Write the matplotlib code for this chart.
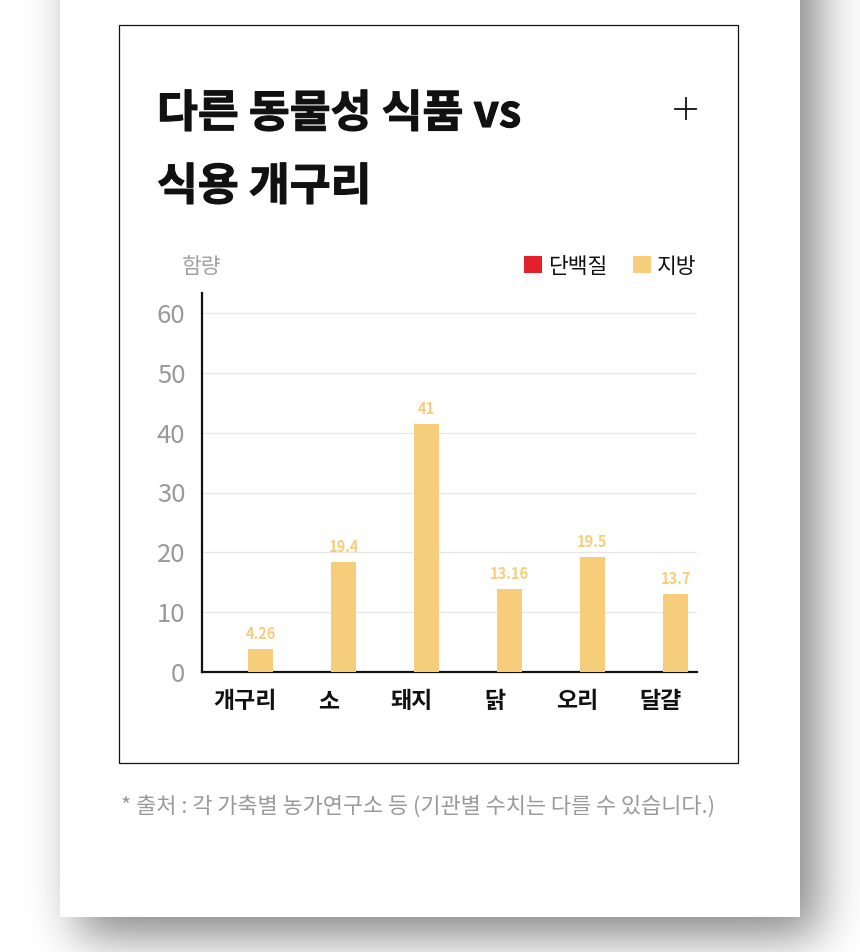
import math
import numpy as np
import matplotlib
matplotlib.use("Agg")
import matplotlib.pyplot as plt
import matplotlib.patheffects as pe
from matplotlib.patches import Rectangle
from matplotlib.lines import Line2D

plt.rcParams['font.family'] = ['Noto Sans CJK KR', 'DejaVu Sans']

# data
categories = ['개구리', '소', '돼지', '닭', '오리', '달걀']
series_names = ['단백질', '지방']
series_colors = ['#e4222b', '#f6cd7b']
fat_heights = [3.9, 18.45, 41.4, 13.8, 19.15, 13.1]      # bar tops as drawn
fat_labels = ['4.26', '19.4', '41', '13.16', '19.5', '13.7']  # value labels as printed
y_ticks = [0, 10, 20, 30, 40, 50, 60]

title_lines = ['다른 동물성 식품 vs', '식용 개구리']
unit_label = '함량'
footnote = '* 출처 : 각 가축별 농가연구소 등 (기관별 수치는 다를 수 있습니다.)'

W, H = 860, 952
fig = plt.figure(figsize=(W / 100, H / 100), dpi=100)

# background axes in pixel coordinates
bg = fig.add_axes([0, 0, 1, 1])
bg.set_xlim(0, W)
bg.set_ylim(H, 0)
bg.axis('off')


def profile(t, a, b, s):
    erf = np.vectorize(math.erf)
    return 0.5 * (erf((t - a) / (s * math.sqrt(2))) - erf((t - b) / (s * math.sqrt(2))))


# soft drop shadow of the card
xs = np.arange(W) + 0.5
ys = np.arange(H) + 0.5
px = profile(xs, 60 + 18, 800 + 18, 24)
py = profile(ys, -200, 916 + 20, 24)
shade = 1 - 0.48 * np.outer(py, px)
bg.imshow(shade, cmap='gray', vmin=0, vmax=1, extent=(0, W, H, 0),
          aspect='auto', interpolation='bilinear', zorder=0)

bg.add_patch(Rectangle((60, -5), 740, 921.5, fc='white', ec='none', zorder=1))
bg.add_patch(Rectangle((118.5, 24.5), 619, 738, fill=False, ec='#111111',
                       lw=0.9, zorder=2))

# title
thick = [pe.withStroke(linewidth=0.8, foreground='#111111')]
bg.text(157, 127, title_lines[0], fontsize=32, fontweight='black', color='#111111',
        va='baseline', ha='left', zorder=3, path_effects=thick)
bg.text(157, 200, title_lines[1], fontsize=32, fontweight='black', color='#111111',
        va='baseline', ha='left', zorder=3, path_effects=thick)

# plus icon
bg.add_line(Line2D([675, 696], [108.5, 108.5], color='#111111', lw=1.3, zorder=3))
bg.add_line(Line2D([685.5, 685.5], [98, 119], color='#111111', lw=1.3, zorder=3))

# unit + legend
bg.text(182, 273, unit_label, fontsize=15.5, color='#a0a0a0', va='baseline', zorder=3)
bg.add_patch(Rectangle((524, 256), 18, 17, fc=series_colors[0], ec='none', zorder=3))
bg.text(548, 273, series_names[0], fontsize=15.5, color='#111111', va='baseline', zorder=3)
bg.add_patch(Rectangle((633, 256), 18, 17, fc=series_colors[1], ec='none', zorder=3))
bg.text(657, 273, series_names[1], fontsize=15.5, color='#111111', va='baseline', zorder=3)

# footnote
bg.text(121, 813, footnote, fontsize=15.8, color='#9a9a9a', va='baseline', zorder=3)

# chart axes
ax_l, ax_r, ax_t, ax_b = 202, 697, 293, 672
ax = fig.add_axes([ax_l / W, 1 - ax_b / H, (ax_r - ax_l) / W, (ax_b - ax_t) / H])
ax.patch.set_alpha(0)

step = 83.0
x = np.arange(len(categories))
offset = 15 / step
bw = 25 / step
ax.bar(x + offset, fat_heights, width=bw, color=series_colors[1], zorder=3)
for xi, h, lab in zip(x, fat_heights, fat_labels):
    ax.annotate(lab, (xi + offset, h), xytext=(0, 10), textcoords='offset pixels',
                ha='center', va='baseline', fontsize=10.5, fontweight='bold',
                color=series_colors[1])

ax.set_xlim((ax_l - 245.5) / step, (ax_r - 245.5) / step)
ax.set_ylim(0, 60 * (ax_b - ax_t) / (ax_b - 313))
ax.set_yticks(y_ticks)
ax.set_xticks(x)
ax.set_xticklabels(categories, fontsize=16.5, fontweight='bold', color='#111111')
ax.tick_params(axis='y', length=0, pad=12, labelsize=18.5, labelcolor='#999999')
ax.tick_params(axis='x', length=0, pad=13)
for s in ['top', 'right']:
    ax.spines[s].set_visible(False)
for s in ['left', 'bottom']:
    ax.spines[s].set_linewidth(1.6)
    ax.spines[s].set_color('#111111')
ax.yaxis.grid(True, color='#e6e6e6', lw=0.9, zorder=0)
ax.set_axisbelow(True)

fig.savefig('out.png', dpi=100)
